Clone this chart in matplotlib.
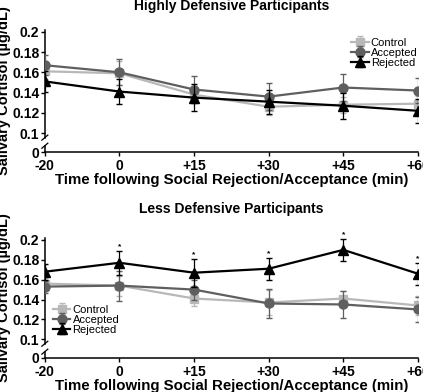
import matplotlib
matplotlib.use("Agg")
import matplotlib.pyplot as plt
import numpy as np

plt.rcParams['font.family'] = ['Liberation Sans', 'DejaVu Sans']

times = ["-20", "0", "+15", "+30", "+45", "+60"]

# Highly defensive participants
hi_control = [0.161, 0.159, 0.138, 0.126, 0.128, 0.129]
hi_control_err = [0.008, 0.012, 0.008, 0.008, 0.008, 0.008]
hi_accepted = [0.167, 0.160, 0.143, 0.136, 0.145, 0.142]
hi_accepted_err = [0.010, 0.013, 0.013, 0.013, 0.013, 0.012]
hi_rejected = [0.151, 0.141, 0.135, 0.131, 0.127, 0.122]
hi_rejected_err = [0.010, 0.012, 0.013, 0.012, 0.013, 0.012]

# Less defensive participants
lo_control = [0.156, 0.154, 0.141, 0.137, 0.141, 0.134]
lo_control_err = [0.006, 0.010, 0.008, 0.013, 0.008, 0.010]
lo_accepted = [0.153, 0.154, 0.150, 0.136, 0.135, 0.130]
lo_accepted_err = [0.006, 0.015, 0.010, 0.015, 0.014, 0.013]
lo_rejected = [0.168, 0.177, 0.167, 0.171, 0.190, 0.166]
lo_rejected_err = [0.008, 0.012, 0.014, 0.011, 0.011, 0.011]
lo_sig = ["", "*", "*", "*", "*", "*"]

yticks = [0.1, 0.12, 0.14, 0.16, 0.18, 0.2]
ytick_labels = ["0.1", "0.12", "0.14", "0.16", "0.18", "0.2"]
Y0 = 0.0812   # where "0" sits below the axis break

C_CTRL = "#b8b8b8"
C_ACC = "#5f5f5f"
C_REJ = "#000000"

fig = plt.figure(figsize=(4.23, 3.92), dpi=100)
ax_hi = fig.add_axes([0.106, 0.612, 0.882, 0.312])
ax_lo = fig.add_axes([0.106, 0.087, 0.882, 0.306])

x = np.arange(len(times))


def draw_panel(ax, title, title_pad, ctrl, ctrl_e, acc, acc_e, rej, rej_e, legend_loc):
    ax.errorbar(x, ctrl, yerr=ctrl_e, color=C_CTRL, marker="s", ms=6, lw=1.6,
                capsize=2, elinewidth=0.9, label="Control", zorder=2)
    ax.errorbar(x, acc, yerr=acc_e, color=C_ACC, marker="o", ms=6.5, lw=1.6,
                capsize=2, elinewidth=0.9, label="Accepted", zorder=3)
    ax.errorbar(x, rej, yerr=rej_e, color=C_REJ, marker="^", ms=6.5, lw=1.6,
                capsize=2, elinewidth=0.9, label="Rejected", zorder=4)
    ax.set_xlim(0, 5)
    ax.set_ylim(Y0, 0.202)
    ax.set_xticks(x)
    ax.set_xticklabels(times, fontsize=10, fontweight="bold")
    ax.set_yticks([Y0] + yticks)
    ax.set_yticklabels(["0"] + ytick_labels, fontsize=10, fontweight="bold")
    ax.tick_params(direction="out", length=3, width=1, pad=1)
    ax.tick_params(axis="x", pad=2)
    for s in ["top", "right"]:
        ax.spines[s].set_visible(False)
    ax.spines["left"].set_bounds(0.0955, 0.202)
    ax.spines["left"].set_linewidth(1.1)
    ax.spines["bottom"].set_linewidth(1.1)
    # lower stub of the broken axis and break marks
    tr = ax.get_yaxis_transform()
    ax.plot([0, 0], [Y0, 0.0875], color="black", lw=1.1, transform=tr, clip_on=False)
    for yb in (0.0955, 0.0875):
        ax.plot([-0.008, 0.008], [yb - 0.0025, yb + 0.0025], color="black", lw=0.9,
                transform=tr, clip_on=False)
    ax.set_title(title, fontsize=10, fontweight="bold", pad=title_pad)
    ax.set_xlabel("Time following Social Rejection/Acceptance (min)",
                  fontsize=10.8, fontweight="bold", labelpad=0)
    ax.set_ylabel("Salivary Cortisol (\u00b5g/dL)", fontsize=10.5, fontweight="bold",
                  labelpad=1)
    if legend_loc == "upper right":
        ax.legend(loc="upper right", bbox_to_anchor=(1.02, 1.0), frameon=False,
                  fontsize=8, handlelength=1.6, handletextpad=0.2,
                  labelspacing=0.0, borderpad=0.2)
    else:
        ax.legend(loc="lower left", bbox_to_anchor=(0.0, 0.13), frameon=False,
                  fontsize=8, handlelength=1.6, handletextpad=0.2,
                  labelspacing=0.0, borderpad=0.2)
    return ax


draw_panel(ax_hi, "Highly Defensive Participants", 14, hi_control, hi_control_err,
           hi_accepted, hi_accepted_err, hi_rejected, hi_rejected_err, "upper right")
draw_panel(ax_lo, "Less Defensive Participants", 18, lo_control, lo_control_err,
           lo_accepted, lo_accepted_err, lo_rejected, lo_rejected_err, "lower left")

for xi, (v, e, s) in enumerate(zip(lo_rejected, lo_rejected_err, lo_sig)):
    if s:
        ax_lo.text(xi, v + e + 0.0005, s, ha="center", va="bottom", fontsize=6,
                   fontweight="bold", clip_on=False)

fig.savefig("out.png", dpi=100)
